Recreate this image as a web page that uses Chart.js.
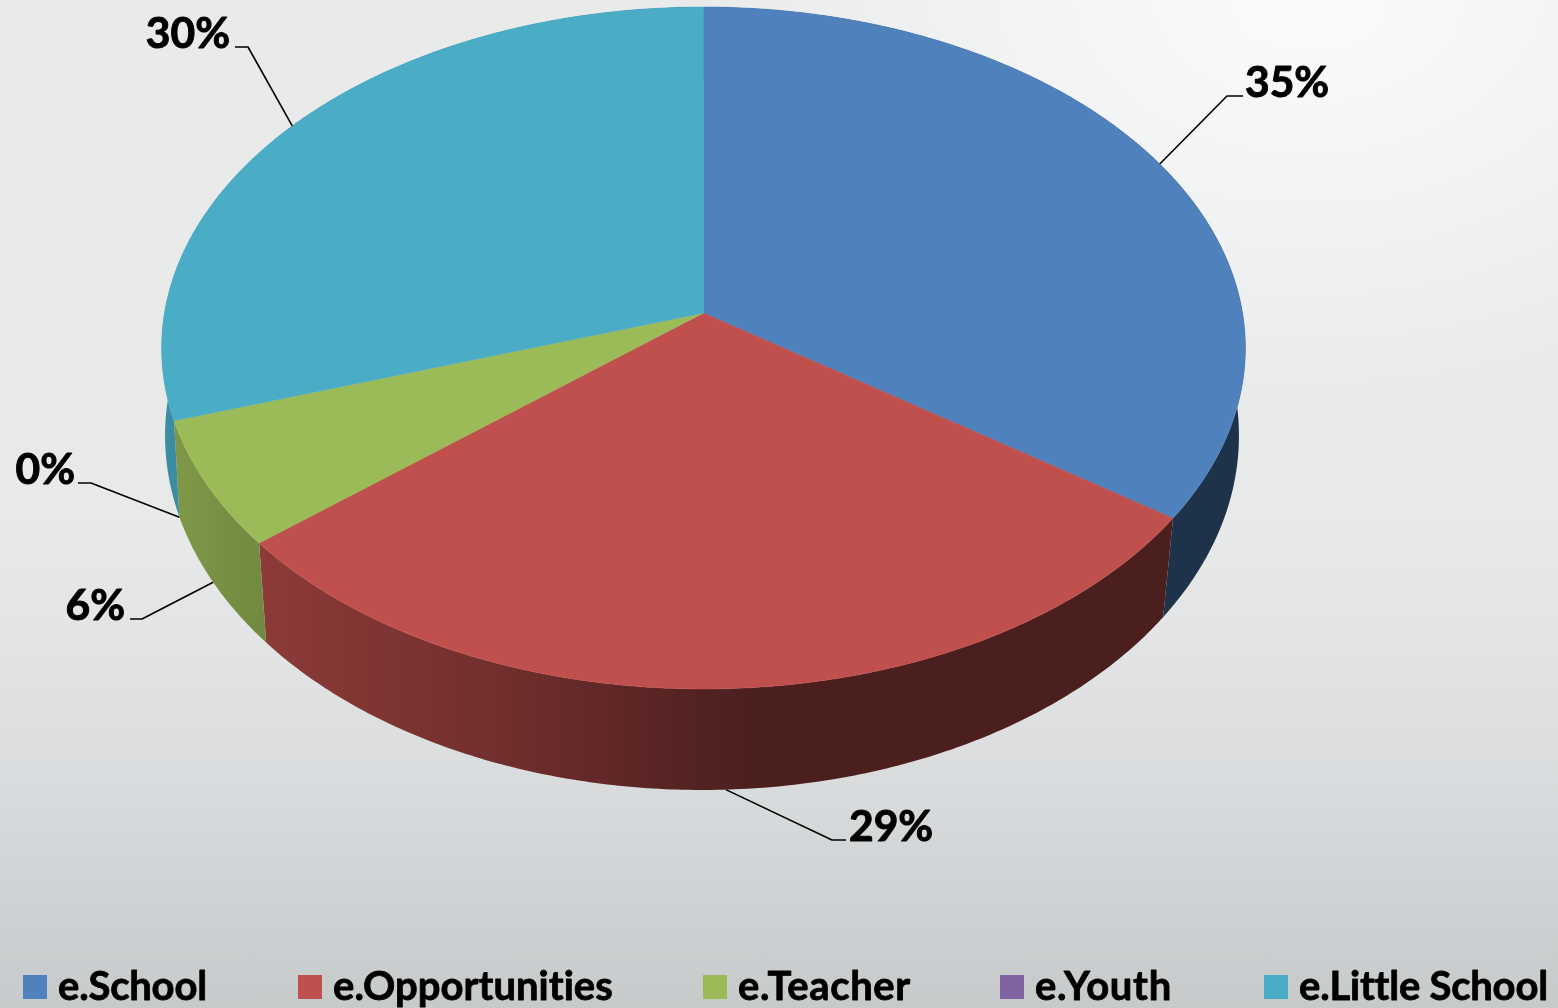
<!DOCTYPE html>
<html>
<head>
<meta charset="utf-8">
<style>
  html, body { margin: 0; padding: 0; overflow: hidden; }
  body {
    width: 1558px; height: 1008px;
    background:
      radial-gradient(ellipse 620px 420px at 84% 0, #fbfbfc 0, rgba(251,251,252,0) 100%),
      linear-gradient(180deg, #e9ebeb 0, #e8eaea 52%, #dcdee0 74%, #c6cacb 100%);
  }
  canvas { display: block; }
</style>
<script src="https://cdn.jsdelivr.net/npm/chart.js@4"></script>
</head>
<body>
<canvas id="pie" width="1558" height="1008"></canvas>
<script>
const categories = ['e.School', 'e.Opportunities', 'e.Teacher', 'e.Youth', 'e.Little School'];
const shares = [34.7, 29.3, 6.0, 0, 30.0];
const colors = ['#4f81bd', '#c0504d', '#9bbb59', '#8064a2', '#4bacc6'];

// elbow of each leader line, then where it stops next to the label
const elbowX = [1227, 832, 142, 91, 248];
const elbowY = [96, 840, 619, 483, 47];
const leaderEndX = [1243, 846, 130, 78, 235];
const labelX = [1245, 849, 125, 75, 230];
const labelSide = ['left', 'left', 'right', 'right', 'right'];
const legendX = [23, 298, 703, 1000, 1264];
const legendTextWidth = [149, 280, 173, 137, 249];

// perspective of the top disc and of the bottom rim
const top3d = { cx: 703.5, cy: 313, rx: 539, ry: 337.4, tilt: 0.1026 };
const rim3d = { cx: 702, cy: 405.5, rx: 535, ry: 351.8, tilt: 0.085 };

// how dark the side wall gets from left to right
const shadeStops = [[170, 0.82], [268, 0.73], [350, 0.68], [500, 0.59], [700, 0.43], [770, 0.39], [1250, 0.39]];

const project = (angle, disc) => {
    const u = Math.cos(angle), v = Math.sin(angle);
    const d = 1 - disc.tilt * v;
    return { x: disc.cx + disc.rx * u / d, y: disc.cy + disc.ry * v / d };
};

const shade = (hex, k) => {
    const n = parseInt(hex.slice(1), 16);
    return `rgb(${(n >> 16) * k | 0},${((n >> 8) & 255) * k | 0},${(n & 255) * k | 0})`;
};

const arcPoints = (a0, a1, disc) => {
    const steps = Math.max(1, Math.ceil(Math.abs(a1 - a0) / 0.01));
    const pts = [];
    for (let i = 0; i <= steps; i++) pts.push(project(a0 + (a1 - a0) * i / steps, disc));
    return pts;
};

// fill and a thin stroke so the text comes out as heavy as in the picture
const heavyText = (ctx, text, x, y, weight) => {
    ctx.lineWidth = weight;
    ctx.strokeStyle = '#000';
    ctx.fillStyle = '#000';
    ctx.strokeText(text, x, y);
    ctx.fillText(text, x, y);
};

const pie3d = {
    id: 'pie3d',
    beforeDatasetsDraw(chart) {
        const ctx = chart.ctx;
        const arcs = chart.getDatasetMeta(0).data;
        const total = shares.reduce((a, b) => a + b, 0);

        // side walls first, the top face covers what is behind
        arcs.forEach((arc, i) => {
            if (!shares[i]) return;
            const grad = ctx.createLinearGradient(shadeStops[0][0], 0, shadeStops[6][0], 0);
            shadeStops.forEach(([x, k]) => grad.addColorStop((x - 170) / 1080, shade(colors[i], k)));
            ctx.beginPath();
            arcPoints(arc.startAngle, arc.endAngle, top3d).forEach((p, n) => n ? ctx.lineTo(p.x, p.y) : ctx.moveTo(p.x, p.y));
            arcPoints(arc.endAngle, arc.startAngle, rim3d).forEach(p => ctx.lineTo(p.x, p.y));
            ctx.closePath();
            ctx.fillStyle = grad;
            ctx.fill();
        });

        arcs.forEach((arc, i) => {
            if (!shares[i]) return;
            ctx.beginPath();
            ctx.moveTo(top3d.cx, top3d.cy);
            arcPoints(arc.startAngle, arc.endAngle, top3d).forEach(p => ctx.lineTo(p.x, p.y));
            ctx.closePath();
            ctx.fillStyle = colors[i];
            ctx.strokeStyle = colors[i];
            ctx.lineWidth = 0.5;
            ctx.fill();
            ctx.stroke();
        });

        // leader lines and percentages
        ctx.font = 'bold 42.5px Lato';
        ctx.letterSpacing = '0.01px'; // keeps Lato from joining "ti" into a ligature
        ctx.textBaseline = 'alphabetic';
        ctx.lineJoin = 'round';
        arcs.forEach((arc, i) => {
            const mid = (arc.startAngle + arc.endAngle) / 2;
            const p = project(mid, Math.sin(mid) > 0 ? rim3d : top3d);
            ctx.beginPath();
            ctx.moveTo(p.x, p.y);
            ctx.lineTo(elbowX[i], elbowY[i]);
            ctx.lineTo(leaderEndX[i], elbowY[i]);
            ctx.strokeStyle = '#000';
            ctx.lineWidth = 1.6;
            ctx.stroke();
            ctx.textAlign = labelSide[i];
            heavyText(ctx, Math.round(shares[i] / total * 100) + '%', labelX[i], elbowY[i] + 1, 1);
        });

        ctx.textAlign = 'left';
        categories.forEach((name, i) => {
            ctx.fillStyle = colors[i];
            ctx.fillRect(legendX[i], 975, 24, 24);
            // stretch each name a little to the width it has in the picture
            ctx.font = 'bold 40px Lato';
            ctx.letterSpacing = '0.01px';
            const extra = (legendTextWidth[i] - ctx.measureText(name).width) / name.length;
            ctx.letterSpacing = (extra || 0.01) + 'px';
            heavyText(ctx, name, legendX[i] + 35, 1000, 0.8);
        });
        return false;
    }
};

new Chart(document.getElementById('pie'), {
    type: 'pie',
    data: {
        labels: categories,
        datasets: [{ data: shares, backgroundColor: colors, borderWidth: 0 }]
    },
    options: {
        responsive: false,
        animation: false,
        plugins: { legend: { display: false }, tooltip: { enabled: false } }
    },
    plugins: [pie3d]
});
</script>
</body>
</html>
